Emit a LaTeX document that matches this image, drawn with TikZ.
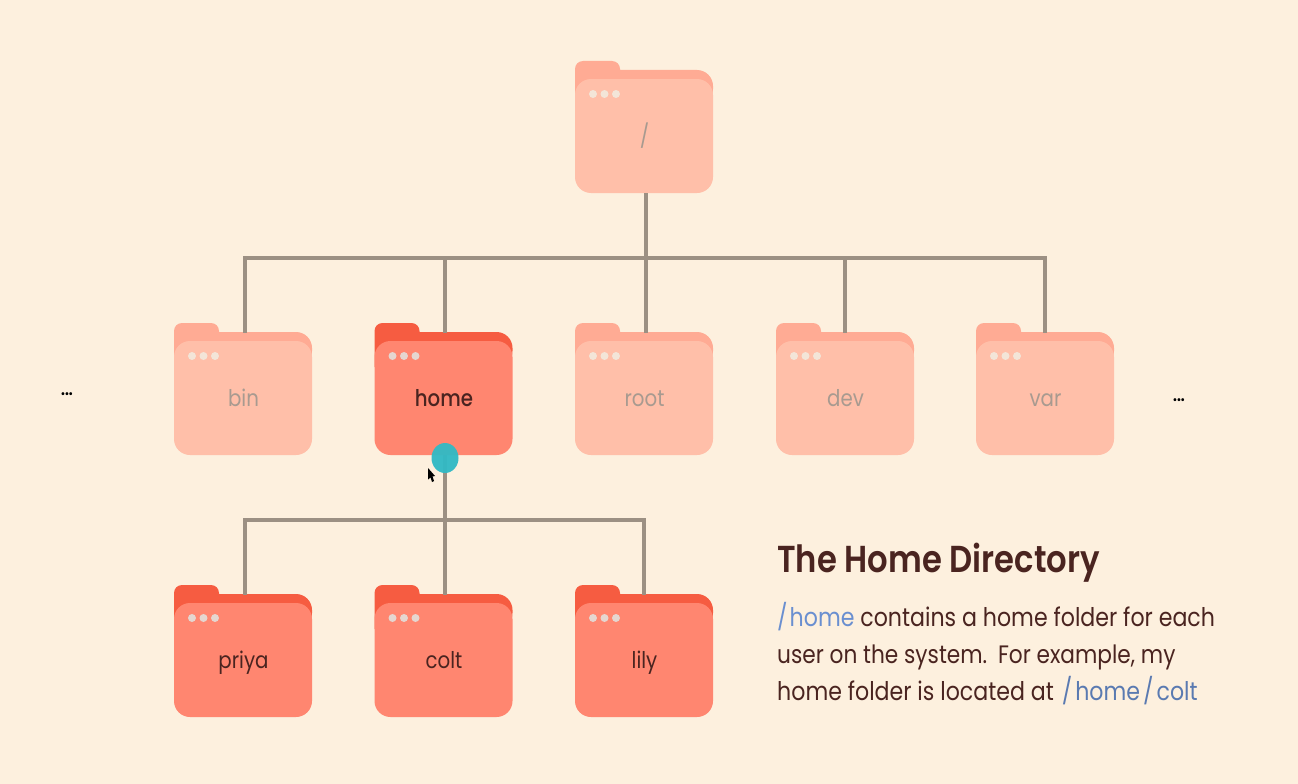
\documentclass[tikz,border=0pt]{standalone}
\usepackage{fontspec}
\setmainfont{Poppins}[FakeStretch=0.86]
\newfontfamily\medfont{Poppins Medium}[FakeStretch=0.86]
\newfontfamily\semifont{Poppins SemiBold}[FakeStretch=0.86]
\usetikzlibrary{calc}
\definecolor{bgc}{HTML}{FDF0DE}
\definecolor{wire}{HTML}{9C9083}
\definecolor{lback}{HTML}{FFAB94}
\definecolor{lfront}{HTML}{FFBFA9}
\definecolor{dback}{HTML}{F65C41}
\definecolor{dfront}{HTML}{FF8670}
\definecolor{ldots}{HTML}{F3E5D8}
\definecolor{ddots}{HTML}{E5D6D0}
\definecolor{ltext}{HTML}{A89A90}
\definecolor{dtext}{HTML}{4A2420}
\definecolor{linkc}{HTML}{6A8FD0}
\definecolor{tealc}{HTML}{32B9C4}
\tikzset{
  x=1pt,y=-1pt,
  wireline/.style={draw=wire,line width=4pt},
  flabel/.style={font=\fontsize{23}{23}\selectfont,inner sep=0pt},
  bodytext/.style={font=\fontsize{25.7}{30}\selectfont,text=dtext,anchor=base west,inner sep=0pt},
  bodytighter/.style={font=\fontsize{25.2}{30}\selectfont,text=dtext,anchor=base west,inner sep=0pt},
  titletext/.style={font=\semifont\fontsize{37.5}{40}\selectfont,text=dtext,anchor=base west,inner sep=0pt},
  ellipsis/.style={font=\fontsize{16}{16}\selectfont\bfseries,text=black,inner sep=0pt},
}
% name, left x, top y, label, back colour, front colour, dot colour, text colour
\newcommand{\folderbox}[8]{%
  \fill[#5] [rounded corners=8pt] (#2,#3+44) -- (#2,#3) -- (#2+45,#3) [sharp corners] -- (#2+45,#3+9)
    [rounded corners=16pt] -- (#2+138,#3+9) -- (#2+138,#3+44) [sharp corners] -- cycle;
  \fill[#6] [rounded corners=16pt] (#2+69,#3+18) -- (#2+138,#3+18) -- (#2+138,#3+132) -- (#2,#3+132) -- (#2,#3+18) -- (#2+69,#3+18);
  \fill[#7] (#2+18,#3+33) circle[radius=4];
  \fill[#7] (#2+29.5,#3+33) circle[radius=4];
  \fill[#7] (#2+41,#3+33) circle[radius=4];
  \node[flabel,text=#8,anchor=base] (#1) at (#2+69.5,#3+83) {#4};
}
\begin{document}
\begin{tikzpicture}
\useasboundingbox (0,0) rectangle (1298,784);
\fill[bgc] (0,0) rectangle (1298,784);
\folderbox{rootdir}{575}{61}{/}{lback}{lfront}{ldots}{ltext}
\folderbox{bin}{174}{323}{bin}{lback}{lfront}{ldots}{ltext}
\folderbox{home}{374.5}{323}{{\medfont home}}{dback}{dfront}{ddots}{dtext}
\folderbox{root}{575}{323}{root}{lback}{lfront}{ldots}{ltext}
\folderbox{dev}{776}{323}{dev}{lback}{lfront}{ldots}{ltext}
\folderbox{var}{976}{323}{var}{lback}{lfront}{ldots}{ltext}
\folderbox{priya}{174}{585}{priya}{dback}{dfront}{ddots}{dtext}
\folderbox{colt}{374.5}{585}{colt}{dback}{dfront}{ddots}{dtext}
\folderbox{lily}{575}{585}{lily}{dback}{dfront}{ddots}{dtext}
\coordinate (rootout) at (645.5,193);
\coordinate (busa) at (645.5,257.5);
\coordinate (binin) at (244.5,332.5);
\coordinate (homein) at (445,332.5);
\coordinate (rootin) at (645.5,332.5);
\coordinate (devin) at (844.5,332.5);
\coordinate (varin) at (1045,332.5);
\coordinate (homeout) at (445,455);
\coordinate (busb) at (445,519.5);
\coordinate (priyain) at (244.5,594.5);
\coordinate (coltin) at (445,594.5);
\coordinate (lilyin) at (644,594.5);
\draw[wireline] (rootout) -- (busa);
\draw[wireline] (binin) |- (busa);
\draw[wireline] (varin) |- (busa);
\draw[wireline] (homein) -- (homein |- busa);
\draw[wireline] (rootin) -- (busa);
\draw[wireline] (devin) -- (devin |- busa);
\draw[wireline] (homeout) -- (coltin);
\draw[wireline] (priyain) |- (busb);
\draw[wireline] (lilyin) |- (busb);
\fill[tealc,opacity=.96] (445,458) ellipse[x radius=13.5,y radius=15];
\fill[black] (428,468) -- (428,479.5) -- (430.5,477.5) -- (432,482) -- (434,481) -- (432.5,476.5) -- (435,476) -- cycle;
\node[ellipsis] (leftmore) at (67,394.5) {...};
\node[ellipsis] (rightmore) at (1179,400.5) {...};
\node[titletext] (title) at (777,572) {The Home Directory};
\node[bodytext] (lineone) at (777,626) {\textcolor{linkc}{/\kern2pt home} contains a home folder for each};
\node[bodytighter] (linetwo) at (777,663) {user on the system.\kern5pt\ For example, my};
\node[bodytext] (linethree) at (777,700) {home folder is located at \textcolor{linkc!85!black}{\kern2pt/\kern3pt home\kern3pt/\kern3pt colt}};
\end{tikzpicture}
\end{document}
